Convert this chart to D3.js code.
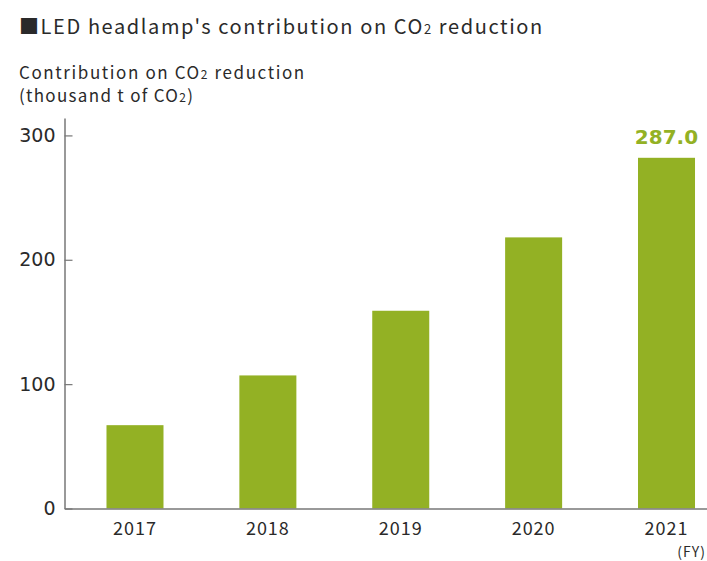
<!DOCTYPE html>
<html>
<head>
<meta charset="utf-8">
<script src="https://cdn.jsdelivr.net/npm/d3@7"></script>
<style>
  html, body { margin: 0; padding: 0; background: #fff; }
  svg { display: block; font-family: "Noto Sans CJK JP", "Noto Sans", sans-serif; }
</style>
</head>
<body>
<svg id="chart" width="707" height="561"></svg>
<script>
const years = ['2017', '2018', '2019', '2020', '2021'];
const values = [67, 107, 159, 218, 282];
const lastLabel = '287.0';
const yTicks = [0, 100, 200, 300];

const BAR_COLOR = '#93b124';
const TEXT_COLOR = '#2a2a2a';
const AXIS_COLOR = '#777';

const svg = d3.select('#chart');

const x = d3.scaleBand()
    .domain(years)
    .range([64.5, 737])
    .paddingInner(0.571)
    .paddingOuter(0.316);

const y = d3.scaleLinear()
    .domain([0, 314])
    .range([508.5, 118]);

// title
const title = svg.append('text')
    .attr('x', 19)
    .attr('y', 34)
    .attr('font-size', 20)
    .attr('letter-spacing', 1.6)
    .attr('fill', TEXT_COLOR);
title.append('tspan').text('■LED headlamp\'s contribution on CO');
title.append('tspan').attr('font-size', 13).text('2');
title.append('tspan').text(' reduction');

// y unit label
const unit1 = svg.append('text')
    .attr('x', 19)
    .attr('y', 79)
    .attr('font-size', 17)
    .attr('letter-spacing', 1.6)
    .attr('fill', TEXT_COLOR);
unit1.append('tspan').text('Contribution on CO');
unit1.append('tspan').attr('font-size', 12).text('2');
unit1.append('tspan').text(' reduction');

const unit2 = svg.append('text')
    .attr('x', 19)
    .attr('y', 102)
    .attr('font-size', 17)
    .attr('letter-spacing', 1.3)
    .attr('fill', TEXT_COLOR);
unit2.append('tspan').text('(thousand t of CO');
unit2.append('tspan').attr('font-size', 12).text('2');
unit2.append('tspan').text(')');

// bars
svg.append('g')
    .selectAll('rect')
    .data(values)
    .join('rect')
    .attr('x', (d, i) => x(years[i]))
    .attr('y', d => y(d))
    .attr('width', x.bandwidth())
    .attr('height', d => y(0) - y(d))
    .attr('fill', BAR_COLOR);

// value label on the last bar
svg.append('text')
    .attr('x', x(years[years.length - 1]) + x.bandwidth() / 2)
    .attr('y', y(values[values.length - 1]) - 14)
    .attr('text-anchor', 'middle')
    .attr('font-size', 20)
    .attr('font-weight', 'bold')
    .attr('font-family', '"DejaVu Sans", sans-serif')
    .attr('fill', BAR_COLOR)
    .text(lastLabel);

// y axis
const yAxis = svg.append('g')
    .attr('transform', 'translate(64.5,0)')
    .call(d3.axisLeft(y).tickValues(yTicks).tickSize(-8).tickSizeOuter(0).tickPadding(9));
yAxis.select('.domain').attr('stroke', AXIS_COLOR).attr('stroke-width', 1.5);
yAxis.selectAll('.tick line').attr('stroke', AXIS_COLOR).attr('stroke-width', 1.2);
yAxis.selectAll('.tick text')
    .attr('font-size', 19)
    .attr('font-family', '"DejaVu Sans", sans-serif')
    .attr('fill', TEXT_COLOR);

// x axis
const xAxis = svg.append('g')
    .attr('transform', 'translate(0,508.5)')
    .call(d3.axisBottom(x).tickSize(0).tickSizeOuter(0).tickPadding(14));
xAxis.select('.domain').attr('stroke', AXIS_COLOR).attr('stroke-width', 1.5);
xAxis.selectAll('.tick text')
    .attr('font-size', 18)
    .attr('letter-spacing', 1)
    .attr('font-family', '"Noto Sans CJK JP", sans-serif')
    .attr('fill', TEXT_COLOR);

svg.append('text')
    .attr('x', 706)
    .attr('y', 557)
    .attr('text-anchor', 'end')
    .attr('font-size', 14)
    .attr('letter-spacing', 1)
    .attr('fill', TEXT_COLOR)
    .text('(FY)');
</script>
</body>
</html>
